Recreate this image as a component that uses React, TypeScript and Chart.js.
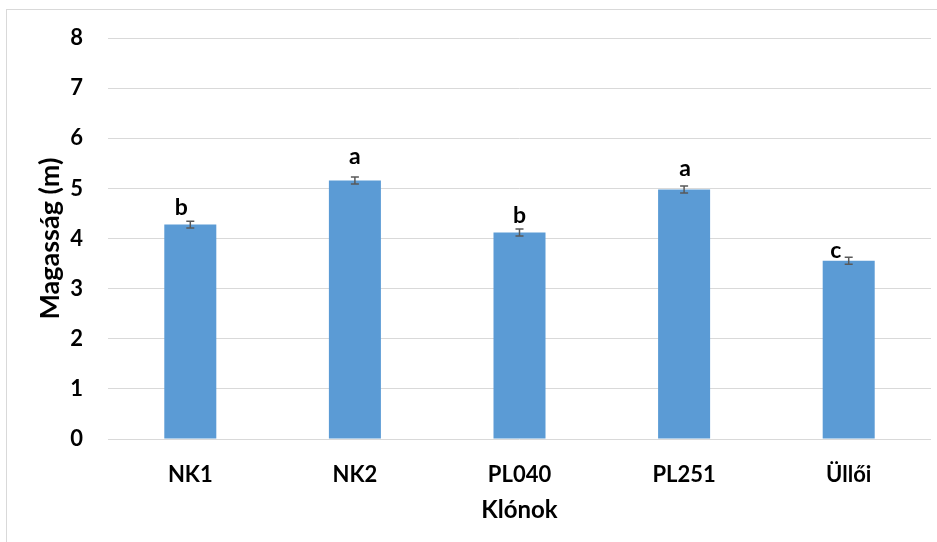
import React, { useEffect, useRef } from 'react';
import { Chart, registerables } from 'chart.js';

Chart.register(...registerables);

const categories = ['NK1', 'NK2', 'PL040', 'PL251', 'Üllői'];
const heights = [4.28, 5.16, 4.12, 4.98, 3.56];
const errors = [0.066, 0.07, 0.07, 0.07, 0.07];
const letters = ['b', 'a', 'b', 'a', 'c'];
const yTicks = [0, 1, 2, 3, 4, 5, 6, 7, 8];
const yTitle = 'Magasság (m)';
const xTitle = 'Klónok';

const FONT = 'Lato, "Open Sans", "DejaVu Sans", sans-serif';

// label placement offsets (px) relative to bar top / bar centre
const letterDx = [-9, 0, 0, 1, -13];
const letterGap = [10, 16, 10, 14, 3];

const errorBarPlugin = {
  id: 'errorBarsLetters',
  afterDatasetsDraw(chart: any) {
    const { ctx } = chart;
    const y = chart.scales.y;
    const meta = chart.getDatasetMeta(0);
    ctx.save();
    ctx.strokeStyle = '#595959';
    ctx.lineWidth = 1.5;
    meta.data.forEach((bar: any, i: number) => {
      const cx = bar.x;
      const top = y.getPixelForValue(heights[i] + errors[i]);
      const bot = y.getPixelForValue(heights[i] - errors[i]);
      ctx.beginPath();
      ctx.moveTo(cx, top);
      ctx.lineTo(cx, bot);
      ctx.moveTo(cx - 4, top);
      ctx.lineTo(cx + 4, top);
      ctx.moveTo(cx - 4, bot);
      ctx.lineTo(cx + 4, bot);
      ctx.stroke();
    });
    ctx.fillStyle = '#000';
    ctx.font = `bold 23px ${FONT}`;
    ctx.textAlign = 'center';
    ctx.textBaseline = 'alphabetic';
    meta.data.forEach((bar: any, i: number) => {
      const barTop = y.getPixelForValue(heights[i]);
      ctx.fillText(letters[i], bar.x + letterDx[i], barTop - letterGap[i]);
    });
    ctx.restore();
  },
};

export default function App() {
  const canvasRef = useRef<HTMLCanvasElement | null>(null);

  useEffect(() => {
    if (!canvasRef.current) return;
    const chart = new Chart(canvasRef.current, {
      type: 'bar',
      data: {
        labels: categories,
        datasets: [
          {
            data: heights,
            backgroundColor: '#5b9bd5',
            borderWidth: 0,
            barPercentage: 0.316,
            categoryPercentage: 1,
          },
        ],
      },
      options: {
        animation: false,
        responsive: true,
        maintainAspectRatio: false,
        layout: { padding: { left: 0, right: 6, top: 35.5, bottom: 0 } },
        plugins: {
          legend: { display: false },
          tooltip: { enabled: false },
        },
        scales: {
          x: {
            grid: { display: false },
            border: { display: false },
            ticks: {
              color: '#000',
              font: { family: FONT, weight: 'bold', size: 22 },
              padding: 15,
              maxRotation: 0,
            },
            title: {
              display: true,
              text: xTitle,
              color: '#000',
              font: { family: FONT, weight: 'bold', size: 24 },
              padding: { top: 0, bottom: 17 },
            },
            afterFit: (scale: any) => {
              scale.height = 103;
            },
          },
          y: {
            min: yTicks[0],
            max: yTicks[yTicks.length - 1],
            afterBuildTicks: (scale: any) => {
              scale.ticks = yTicks.map((v) => ({ value: v }));
            },
            grid: { color: '#d9d9d9', lineWidth: 1, drawTicks: false },
            border: { display: false },
            ticks: {
              color: '#000',
              font: { family: FONT, weight: 'bold', size: 22 },
              padding: 25,
            },
            title: {
              display: true,
              text: yTitle,
              color: '#000',
              font: { family: FONT, weight: 'bold', size: 27 },
              padding: { top: 34, bottom: 0 },
            },
            afterFit: (scale: any) => {
              scale.width = 108;
            },
          },
        },
      },
      plugins: [errorBarPlugin],
    });
    return () => chart.destroy();
  }, []);

  return (
    <div
      style={{
        position: 'fixed',
        left: 0,
        top: 0,
        width: 937,
        height: 542,
        background: '#fff',
        overflow: 'hidden',
      }}
    >
      <div
        style={{
          position: 'absolute',
          left: 6,
          top: 9,
          width: 960,
          height: 600,
          border: '1.5px solid #d9d9d9',
          boxSizing: 'border-box',
        }}
      />
      <div style={{ position: 'absolute', left: 0, top: 0, width: 937, height: 542 }}>
        <canvas ref={canvasRef} />
      </div>
    </div>
  );
}
